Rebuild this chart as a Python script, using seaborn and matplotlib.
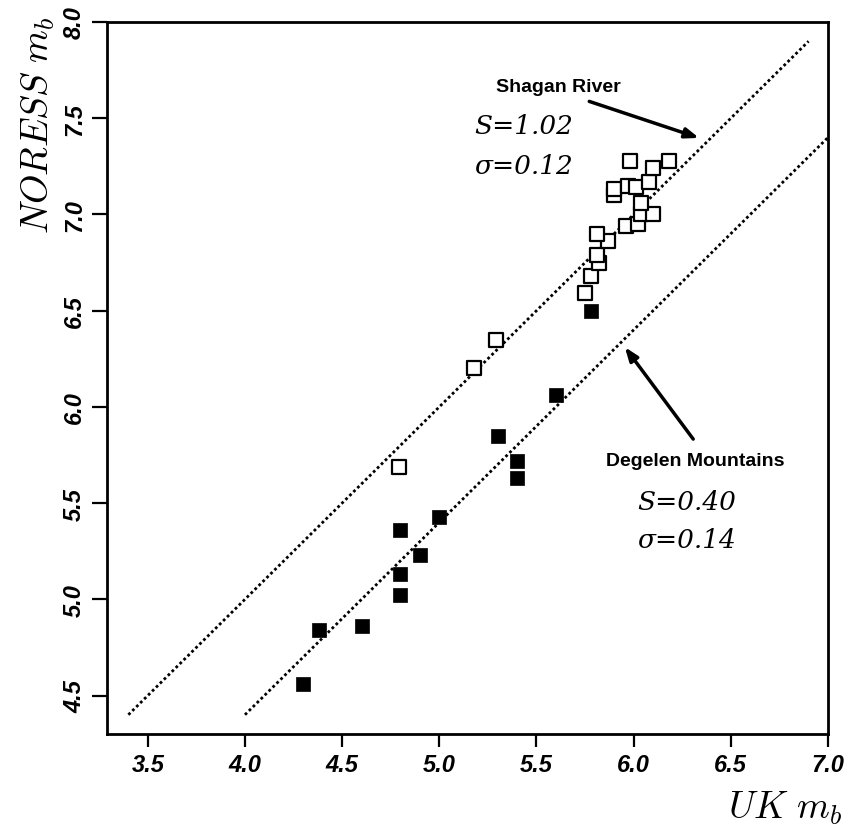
import matplotlib
matplotlib.use("Agg")
import matplotlib.pyplot as plt
import seaborn as sns
import pandas as pd

# ---- data ----
shagan_uk = [4.79, 5.18, 5.29, 5.75, 5.78, 5.82, 5.81, 5.87, 5.81, 5.96, 6.02, 6.04, 6.10,
             6.04, 5.90, 5.90, 5.97, 6.01, 6.08, 6.10, 5.98, 6.18]
shagan_nor = [5.69, 6.20, 6.35, 6.59, 6.68, 6.75, 6.79, 6.86, 6.90, 6.94, 6.95, 7.00, 7.00,
              7.06, 7.10, 7.13, 7.15, 7.14, 7.17, 7.24, 7.28, 7.28]
degelen_uk = [4.30, 4.38, 4.60, 4.80, 4.80, 4.90, 4.80, 5.00, 5.40, 5.40, 5.30, 5.60, 5.78]
degelen_nor = [4.56, 4.84, 4.86, 5.02, 5.13, 5.23, 5.36, 5.43, 5.63, 5.72, 5.85, 6.06, 6.50]

shagan_line_x = [3.4, 6.9]
shagan_line_y = [4.4, 7.9]
degelen_line_x = [4.0, 7.0]
degelen_line_y = [4.4, 7.4]

x_ticks = [3.5, 4.0, 4.5, 5.0, 5.5, 6.0, 6.5, 7.0]
y_ticks = [4.5, 5.0, 5.5, 6.0, 6.5, 7.0, 7.5, 8.0]

sns.set_style("ticks")
plt.rcParams.update({
    "mathtext.fontset": "cm",
    "axes.edgecolor": "black",
    "text.color": "black",
    "xtick.color": "black",
    "ytick.color": "black",
})

df_s = pd.DataFrame({"uk": shagan_uk, "nor": shagan_nor})
df_d = pd.DataFrame({"uk": degelen_uk, "nor": degelen_nor})
df_ls = pd.DataFrame({"x": shagan_line_x, "y": shagan_line_y})
df_ld = pd.DataFrame({"x": degelen_line_x, "y": degelen_line_y})

fig = plt.figure(figsize=(8.47, 8.28), dpi=100)
ax = fig.add_axes([107/847, 1 - 735/828, (828-107)/847, (735-23)/828])

sns.lineplot(data=df_ls, x="x", y="y", ax=ax, color="black", lw=2.0,
             linestyle=(0, (1, 1)), sort=False)
sns.lineplot(data=df_ld, x="x", y="y", ax=ax, color="black", lw=2.0,
             linestyle=(0, (1, 1)), sort=False)

sns.scatterplot(data=df_s, x="uk", y="nor", ax=ax, marker="s", s=90,
                facecolor="white", edgecolor="black", linewidth=1.6, zorder=3)
sns.scatterplot(data=df_d, x="uk", y="nor", ax=ax, marker="s", s=90,
                color="black", edgecolor="black", linewidth=0.5, zorder=3)

ax.set_xlim(3.29, 7.0)
ax.set_ylim(4.30, 8.0)
ax.set_xticks(x_ticks)
ax.set_yticks(y_ticks)
ax.set_xticklabels([f"{v:.1f}" for v in x_ticks], fontsize=17,
                   fontweight="bold", fontstyle="italic", family="Liberation Sans")
ax.set_yticklabels([f"{v:.1f}" for v in y_ticks], fontsize=17,
                   fontweight="bold", fontstyle="italic", family="Liberation Sans",
                   rotation=90, va="center")
ax.tick_params(axis="x", direction="out", length=9, width=1.6, pad=5)
ax.tick_params(axis="y", direction="out", length=11, width=1.6, pad=4)
for sp in ax.spines.values():
    sp.set_visible(True)
    sp.set_linewidth(2.0)
ax.set_xlabel("")
ax.set_ylabel("")

fig.text(38/847, 1 - 125/828, r"$NORESS\ m_b$", rotation=90, ha="center",
         va="center", fontsize=27)
fig.text(785/847, 1 - 808/828, r"$UK\ m_b$", ha="center", va="center", fontsize=27)

# annotations
ax.text(5.613, 7.663, "Shagan River", fontsize=14, fontweight="bold",
        family="Liberation Sans", ha="center", va="center")
ax.text(5.69, 7.46, "S=1.02", fontsize=19, fontstyle="italic",
        family="DejaVu Serif", ha="right", va="center")
ax.text(5.69, 7.255, "σ=0.12", fontsize=19, fontstyle="italic",
        family="DejaVu Serif", ha="right", va="center")
ax.annotate("", xy=(6.35, 7.393), xytext=(5.758, 7.592),
            arrowprops=dict(arrowstyle="-|>,head_length=0.8,head_width=0.3",
                            color="black", lw=2.5))

ax.text(6.318, 5.72, "Degelen Mountains", fontsize=14, fontweight="bold",
        family="Liberation Sans", ha="center", va="center")
ax.text(6.02, 5.51, "S=0.40", fontsize=19, fontstyle="italic",
        family="DejaVu Serif", ha="left", va="center")
ax.text(6.02, 5.31, "σ=0.14", fontsize=19, fontstyle="italic",
        family="DejaVu Serif", ha="left", va="center")
ax.annotate("", xy=(5.946, 6.322), xytext=(6.315, 5.821),
            arrowprops=dict(arrowstyle="-|>,head_length=0.8,head_width=0.3",
                            color="black", lw=2.5))

fig.savefig("out.png", dpi=100)
